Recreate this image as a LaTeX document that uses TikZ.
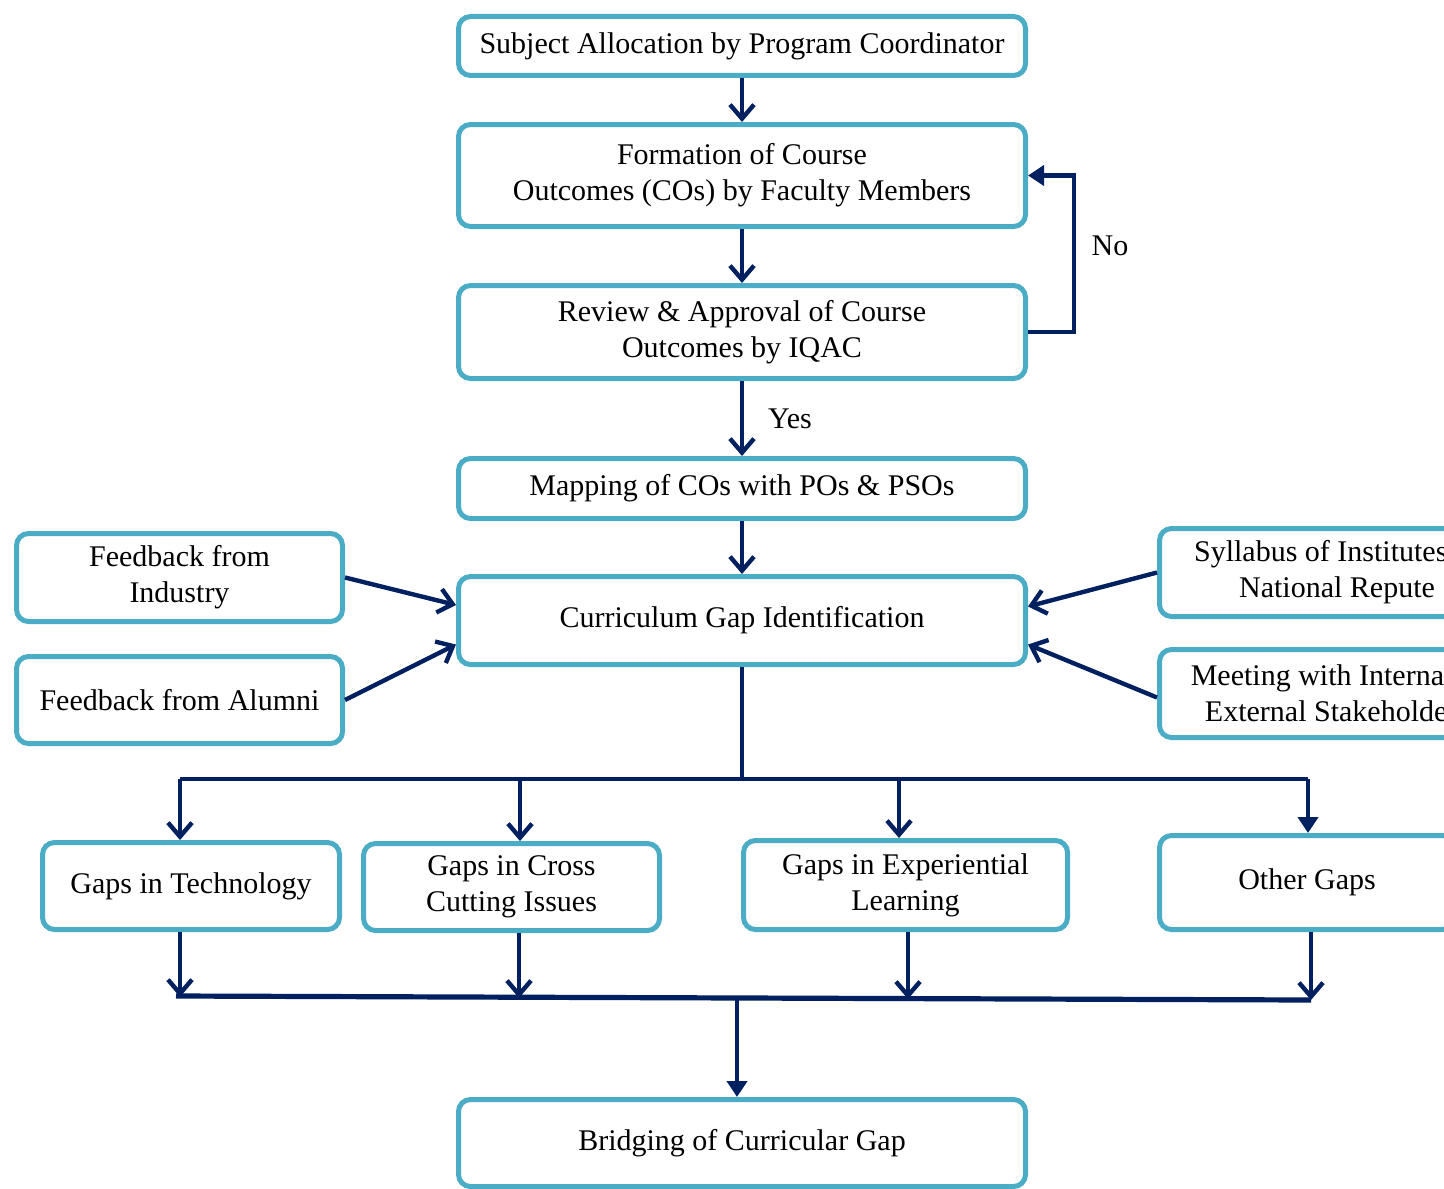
\documentclass[tikz,border=0pt]{standalone}
\usepackage{fontspec}
\setmainfont{Liberation Serif}
\usetikzlibrary{arrows.meta}
\definecolor{boxblue}{HTML}{4BACC6}
\definecolor{navy}{HTML}{002060}
\begin{document}
\begin{tikzpicture}[x=0.5pt,y=-0.5pt,
  box/.style={draw=boxblue, line width=2.5pt, rounded corners=6pt, fill=white,
    align=center, inner sep=0pt, font=\fontsize{15}{18}\selectfont},
  wire/.style={draw=navy, line width=2.2pt},
  flow/.style={wire, -{Straight Barb[length=7pt,width=12pt,line width=2.2pt]}},
  flowfill/.style={wire, -{Triangle[length=8pt,width=10pt]}},
  lbl/.style={font=\fontsize{15}{18}\selectfont, inner sep=0pt}]
\useasboundingbox (0,0) rectangle (1444,1188);
\clip (0,0) rectangle (1444,1188);

% main column
\node[box, minimum width=283.5pt, minimum height=29.5pt] (alloc) at (742,46)
  {Subject Allocation by Program Coordinator};
\node[box, minimum width=283.5pt, minimum height=51pt] (form) at (742,175.5)
  {Formation of Course\\Outcomes (COs) by Faculty Members};
\node[box, minimum width=283.5pt, minimum height=46.5pt] (review) at (742,332)
  {Review \& Approval of Course\\Outcomes by IQAC};
\node[box, minimum width=283.5pt, minimum height=30pt] (map) at (742,488.5)
  {Mapping of COs with POs \& PSOs};
\node[box, minimum width=283.5pt, minimum height=44pt] (gap) at (742,620.5)
  {Curriculum Gap Identification};

% inputs to gap identification
\node[box, minimum width=163pt, minimum height=44pt] (ind) at (179.5,577.5)
  {Feedback from\\Industry};
\node[box, minimum width=163pt, minimum height=43.5pt] (alum) at (179.5,700)
  {Feedback from Alumni};
\node[box, minimum width=177.5pt, minimum height=44pt] (syl) at (1337,572.5)
  {Syllabus of Institutes of\\National Repute};
\node[box, minimum width=177.5pt, minimum height=44pt] (meet) at (1337,693.5)
  {Meeting with Internal \&\\External Stakeholders};

% gap categories
\node[box, minimum width=148.5pt, minimum height=43.5pt] (tech) at (191,886)
  {Gaps in Technology};
\node[box, minimum width=148pt, minimum height=43.5pt] (cross) at (511.5,887)
  {Gaps in Cross\\Cutting Issues};
\node[box, minimum width=162pt, minimum height=44.5pt] (exp) at (905.5,885)
  {Gaps in Experiential\\Learning};
\node[box, minimum width=147.5pt, minimum height=47pt] (other) at (1307,882.5)
  {Other Gaps};

\node[box, minimum width=283.5pt, minimum height=43.5pt] (bridge) at (742,1143)
  {Bridging of Curricular Gap};

% flow down the main column
\draw[flow] (alloc) -- (form);
\draw[flow] (form) -- (review);
\draw[flow] (review) -- node[lbl, right=12pt] {Yes} (map);
\draw[flow] (map) -- (gap);
\draw[flowfill] (review.east) -- ++(46,0) |- (form.east);
\node[lbl] (no) at (1110,246) {No};

% inputs
\draw[flow] (ind.east) -- ([yshift=7.75pt]gap.west);
\draw[flow] (alum.east) -- ([yshift=-12pt]gap.west);
\draw[flow] (syl.west) -- ([yshift=7pt]gap.east);
\draw[flow] ([yshift=-2pt]meet.west) -- ([yshift=-12pt]gap.east);

% split into gap categories
\coordinate (split) at (742,779);
\coordinate (s1) at (180,779);
\coordinate (s2) at (520,779);
\coordinate (s3) at (899,779);
\coordinate (s4) at (1308,779);
\draw[wire] (gap.south) -- (split);
\draw[wire] (s1) -- (s4);
\draw[flow] (s1) -- (s1 |- tech.north);
\draw[flow] (s2) -- (s2 |- cross.north);
\draw[flow] (s3) -- (s3 |- exp.north);
\draw[flowfill] (s4) -- (s4 |- other.north);

% merge towards bridging
\coordinate (m1) at (180,997);
\coordinate (m2) at (519,998);
\coordinate (m3) at (908,999);
\coordinate (m4) at (1311,1000);
\coordinate (join) at (737,999);
\draw[flow] (m1 |- tech.south) -- (m1);
\draw[flow] (m2 |- cross.south) -- (m2);
\draw[flow] (m3 |- exp.south) -- (m3);
\draw[flow] (m4 |- other.south) -- (m4);
\draw[wire, line width=2.6pt] (176,996) -- (m4);
\draw[flowfill] (join) -- (join |- bridge.north);
\end{tikzpicture}
\end{document}
